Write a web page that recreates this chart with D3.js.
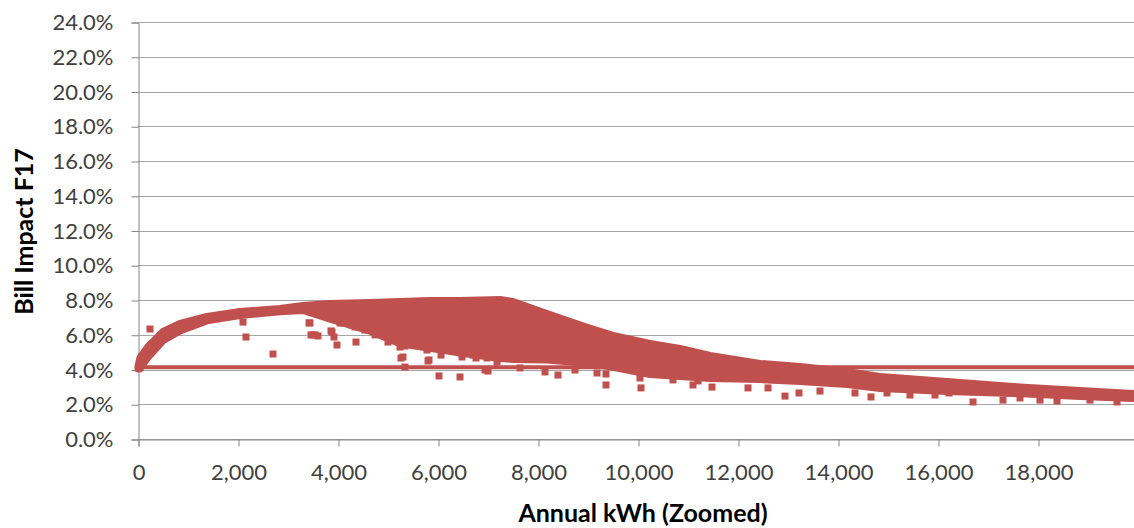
<!DOCTYPE html>
<html>
<head>
<meta charset="utf-8">
<script src="https://cdn.jsdelivr.net/npm/d3@7"></script>
<style>
	body { margin: 0; background: #fff; }
	svg { display: block; font-family: Lato, 'Open Sans', sans-serif; }
</style>
</head>
<body>
<svg id="chart" width="1134" height="528"></svg>
<script>
'use strict';

// dense band of customers: kWh with upper / lower edge of marker centres (fraction)
var bandKwh   = [0, 40, 200, 500, 840, 1380, 2040, 2840, 3300, 3840, 4640, 5240, 5840, 6440, 7240, 7500, 8180, 9000, 9500, 10240, 10840, 11440, 12440, 13240, 14180, 14840, 16180, 17500, 18840, 19900];
var bandUpper = [0.0420, 0.0469, 0.0532, 0.0619, 0.0665, 0.0705, 0.0734, 0.0751, 0.0768, 0.0780, 0.0786, 0.0791, 0.0797, 0.0797, 0.0803, 0.0791, 0.0722, 0.0642, 0.0596, 0.0550, 0.0521, 0.0481, 0.0435, 0.0417, 0.0388, 0.0360, 0.0331, 0.0302, 0.0279, 0.0262];
var bandLower = [0.0403, 0.0403, 0.0470, 0.0565, 0.0622, 0.0680, 0.0710, 0.0732, 0.0740, 0.0690, 0.0620, 0.0548, 0.0522, 0.0495, 0.0463, 0.0458, 0.0455, 0.0435, 0.0412, 0.0371, 0.0360, 0.0348, 0.0342, 0.0331, 0.0314, 0.0291, 0.0273, 0.0262, 0.0245, 0.0233];

// individual customers lying off the band
var outKwh = [240, 2100, 2160, 2700, 3420, 3440, 3460, 3500, 3540, 3600, 3860, 3880, 3920, 3980, 4040, 4080, 4280, 4340, 4360, 4540, 4740, 5000, 5240, 5260, 5300, 5340, 5340, 5540, 5780, 5800, 5820, 6020, 6060, 6100, 6380, 6440, 6480, 6700, 6760, 6940, 6980, 7000, 7180, 7240, 7640, 8140, 8400, 8740, 9180, 9360, 9360, 10040, 10060, 10700, 11100, 11200, 11480, 12200, 12600, 12940, 13220, 13640, 14340, 14660, 14980, 15440, 15940, 16220, 16700, 17300, 17640, 18040, 18380, 19040, 19580];
var outPct = [0.0633, 0.0673, 0.0587, 0.0489, 0.0668, 0.0668, 0.0599, 0.0599, 0.0599, 0.0593, 0.0622, 0.0616, 0.0587, 0.0541, 0.0668, 0.0668, 0.0656, 0.0645, 0.0558, 0.0627, 0.0599, 0.0558, 0.0529, 0.0466, 0.0472, 0.0414, 0.0535, 0.0541, 0.0512, 0.0449, 0.0455, 0.0363, 0.0483, 0.0524, 0.0512, 0.0357, 0.0472, 0.0483, 0.0466, 0.0397, 0.0466, 0.0391, 0.0443, 0.0466, 0.0409, 0.0386, 0.0368, 0.0397, 0.0380, 0.0311, 0.0374, 0.0351, 0.0294, 0.0340, 0.0311, 0.0334, 0.0299, 0.0294, 0.0294, 0.0247, 0.0265, 0.0276, 0.0265, 0.0242, 0.0265, 0.0253, 0.0253, 0.0265, 0.0213, 0.0224, 0.0236, 0.0224, 0.0219, 0.0224, 0.0213];

var flatRate = 0.0413;
var xTicks = [0, 2000, 4000, 6000, 8000, 10000, 12000, 14000, 16000, 18000];
var yTicks = [0, 0.02, 0.04, 0.06, 0.08, 0.10, 0.12, 0.14, 0.16, 0.18, 0.20, 0.22, 0.24];

(function() {
	var red = '#C0504D';
	var pLeft = 138, pRight = 1134, pTop = 22, pBottom = 439;

	var svg = d3.select('#chart');
	var x = d3.scaleLinear().domain([0, 19920]).range([pLeft, pRight]);
	var y = d3.scaleLinear().domain([0, 0.24]).range([pBottom, pTop]);

	svg.append('defs').append('clipPath').attr('id', 'plot')
		.append('rect').attr('x', pLeft - 10).attr('y', pTop - 10)
		.attr('width', pRight - pLeft + 10).attr('height', pBottom - pTop + 20);

	// gridlines
	svg.append('g').selectAll('line').data(yTicks).enter().append('line')
		.attr('x1', pLeft).attr('x2', pRight)
		.attr('y1', function(d) { return Math.round(y(d)) + 0.5; })
		.attr('y2', function(d) { return Math.round(y(d)) + 0.5; })
		.attr('stroke', '#a6a6a6').attr('stroke-width', 1);

	// y axis
	var yAxis = svg.append('g').attr('transform', 'translate(' + (pLeft + 0.5) + ',0.5)')
		.call(d3.axisLeft(y).tickValues(yTicks).tickFormat(d3.format('.1%')).tickSize(7).tickPadding(18));
	yAxis.select('.domain').attr('stroke', '#868686');
	yAxis.selectAll('.tick line').attr('stroke', '#868686');
	yAxis.selectAll('text').attr('font-size', 22).attr('fill', '#404040').attr('font-family', 'Lato, sans-serif');

	// x axis
	var xAxis = svg.append('g').attr('transform', 'translate(0.5,' + (pBottom + 0.5) + ')')
		.call(d3.axisBottom(x).tickValues(xTicks).tickFormat(d3.format(',')).tickSize(7).tickPadding(18));
	xAxis.select('.domain').attr('stroke', '#868686');
	xAxis.selectAll('.tick line').attr('stroke', '#868686');
	xAxis.selectAll('text').attr('font-size', 22).attr('fill', '#404040').attr('font-family', 'Lato, sans-serif');

	var marks = svg.append('g').attr('clip-path', 'url(#plot)');

	var band = d3.range(bandKwh.length).map(function(i) {
		return {k: bandKwh[i], hi: bandUpper[i], lo: bandLower[i]};
	});
	marks.append('path').datum(band)
		.attr('d', d3.area()
			.x(function(d) { return x(d.k); })
			.y0(function(d) { return y(d.lo); })
			.y1(function(d) { return y(d.hi); }))
		.attr('fill', red).attr('stroke', red)
		.attr('stroke-width', 7).attr('stroke-linejoin', 'round');

	marks.selectAll('rect.pt').data(outKwh).enter().append('rect')
		.attr('class', 'pt')
		.attr('x', function(d) { return x(d) - 3.5; })
		.attr('y', function(d, i) { return y(outPct[i]) - 3.5; })
		.attr('width', 7).attr('height', 7)
		.attr('fill', red);

	marks.append('line')
		.attr('x1', x(0)).attr('x2', x(19920))
		.attr('y1', y(flatRate)).attr('y2', y(flatRate))
		.attr('stroke', red).attr('stroke-width', 4);

	// titles
	svg.append('text')
		.attr('transform', 'translate(33,' + ((pTop + pBottom) / 2 + 1) + ') rotate(-90)')
		.attr('text-anchor', 'middle')
		.attr('font-size', 25).attr('font-weight', 'bold').attr('fill', '#000')
		.text('Bill Impact F17');

	svg.append('text')
		.attr('x', 643).attr('y', 522)
		.attr('text-anchor', 'middle')
		.attr('font-size', 25).attr('font-weight', 'bold').attr('fill', '#000')
		.text('Annual kWh (Zoomed)');
})();
</script>
</body>
</html>
